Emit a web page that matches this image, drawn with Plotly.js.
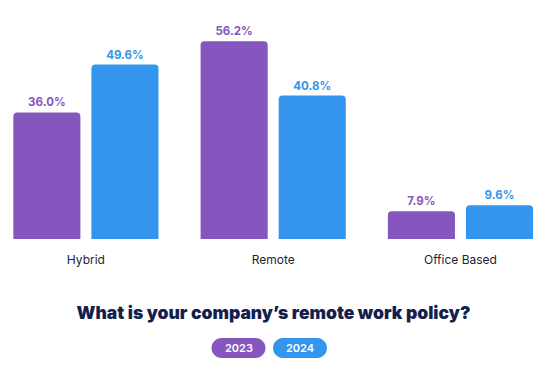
<!DOCTYPE html>
<html><head><meta charset="utf-8">
<script src="https://cdn.plot.ly/plotly-3.0.1.min.js"></script>
<style>html,body{margin:0;padding:0;background:#fff}#c{width:547px;height:386px}</style>
</head><body><div id="c"></div>
<script>
const categories = ["Hybrid", "Remote", "Office Based"];
const seriesNames = ["2023", "2024"];
const values2023 = [36.0, 56.2, 7.9];
const values2024 = [49.6, 40.8, 9.6];
const colors = ["#8557be", "#3395ee"];
const titleText = "What is your company’s remote work policy?";

const W = 547, H = 386, ML = 11, MR = 12, MT = 28, MB = 147;
const pw = W - ML - MR, ph = H - MT - MB;
function px2paperX(x){ return (x - ML) / pw; }
function px2paperY(y){ return (H - MB - y) / ph; }
function pill(cx, cy, w, h){
  const r = h/2, x0 = cx - w/2, x1 = cx + w/2, y0 = cy - h/2, y1 = cy + h/2, k = 0.5523*r;
  const P = (x,y) => px2paperX(x).toFixed(5) + "," + px2paperY(y).toFixed(5);
  return "M" + P(x0+r,y0) + " L" + P(x1-r,y0) +
    " C" + P(x1-r+k,y0) + " " + P(x1,cy-k) + " " + P(x1,cy) +
    " C" + P(x1,cy+k) + " " + P(x1-r+k,y1) + " " + P(x1-r,y1) +
    " L" + P(x0+r,y1) +
    " C" + P(x0+r-k,y1) + " " + P(x0,cy+k) + " " + P(x0,cy) +
    " C" + P(x0,cy-k) + " " + P(x0+r-k,y0) + " " + P(x0+r,y0) + " Z";
}

const font = "Inter, 'Open Sans', sans-serif";
const series = [values2023, values2024];
const data = series.map((v, i) => ({
  type: "bar", x: categories, y: v, name: seriesNames[i],
  marker: {color: colors[i], cornerradius: 4},
  text: v.map(d => d.toFixed(1) + "%"), textposition: "outside",
  textfont: {family: font, size: 11.5, color: colors[i], weight: 700},
  cliponaxis: false, hoverinfo: "skip"
}));

const pillX = [238.5, 300], pillY = 348;
const shapes = seriesNames.map((n, i) => ({
  type: "path", xref: "paper", yref: "paper", path: pill(pillX[i], pillY, 54, 20),
  fillcolor: colors[i], line: {width: 0}
}));
const annotations = seriesNames.map((n, i) => ({
  xref: "paper", yref: "paper", x: px2paperX(pillX[i]), y: px2paperY(pillY),
  xanchor: "center", yanchor: "middle", text: n, showarrow: false,
  font: {family: font, size: 11, color: "#ffffff", weight: 600}
}));

const layout = {
  width: W, height: H, margin: {l: ML, r: MR, t: MT, b: MB},
  paper_bgcolor: "#fff", plot_bgcolor: "#fff",
  barmode: "group", bargap: 0.166, bargroupgap: 0.141, showlegend: false,
  xaxis: {range: [-0.4, 2.398], showgrid: false, zeroline: false, showline: false,
    ticks: "outside", ticklen: 10, tickcolor: "rgba(0,0,0,0)",
    tickfont: {family: font, size: 12, color: "#1f2236"}},
  yaxis: {range: [0, 60], visible: false},
  title: {text: titleText, x: 0.5, xanchor: "center", y: 1 - 313/H, yref: "container", yanchor: "middle",
    font: {family: font, size: 17.5, color: "#151f4e", weight: 900}},
  shapes: shapes, annotations: annotations
};
Plotly.newPlot("c", data, layout, {displayModeBar: false, staticPlot: true});
</script></body></html>
